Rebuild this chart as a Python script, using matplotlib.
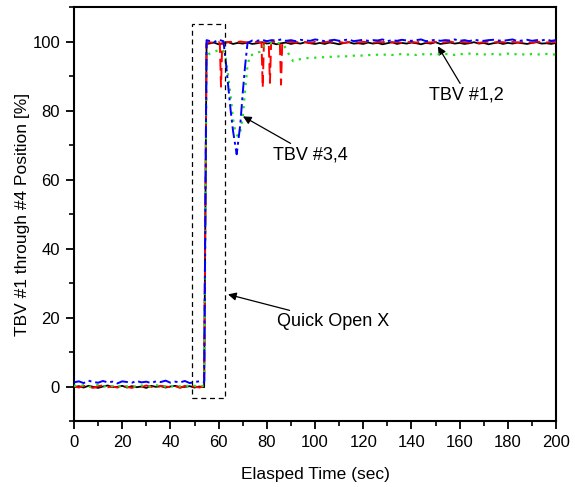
import numpy as np
import matplotlib
matplotlib.use("Agg")
import matplotlib.pyplot as plt
from matplotlib.patches import Rectangle

plt.rcParams['font.family'] = ['Liberation Sans', 'DejaVu Sans']

# ---------------- data ----------------
t_pre = list(range(0, 55, 2))           # 0..54 s (before opening)
t_late = list(range(76, 201, 2))        # 76..200 s

# black (TBV #1)
black_t = t_pre + [55] + list(range(56, 201, 2))
black_pre = [-0.2, 0.1, -0.3, 0.2, -0.1, -0.4, 0.0, 0.3, -0.2, -0.1, 0.2, -0.3, 0.1, -0.2,
             0.0, -0.4, 0.2, -0.1, 0.1, -0.3, 0.0, 0.2, -0.2, -0.1, 0.1, -0.3, 0.0, -0.2]
black_post = [99.3,
              99.4, 99.7, 99.2, 99.5, 99.8, 99.3, 99.6, 99.4, 99.7, 99.3, 99.5, 99.8, 99.4,
              99.6, 99.2, 99.5, 99.7, 99.3, 99.6, 99.4, 99.8, 99.5, 99.3,
              99.6, 99.3, 99.7, 99.5, 99.2, 99.6, 99.8, 99.4, 99.5, 99.3,
              99.7, 99.4, 99.6, 99.2, 99.5, 99.8, 99.3, 99.6, 99.4, 99.7,
              99.5, 99.2, 99.6, 99.4, 99.8, 99.3, 99.5, 99.7, 99.4, 99.6,
              99.3, 99.5, 99.8, 99.4, 99.6, 99.2, 99.5, 99.7, 99.3, 99.6,
              99.4, 99.7, 99.5, 99.3, 99.6, 99.8, 99.4, 99.5, 99.3, 99.6]
black_v = black_pre + black_post

# red (TBV #2)
red_t = t_pre + [55, 56, 58, 60, 60.5, 61, 61.5, 63, 65, 67, 69, 71, 73, 75, 77, 77.8, 78.3, 78.8,
                 80, 80.8, 81.3, 81.8, 83, 85.4, 85.9, 86.4] + list(range(88, 201, 2))
red_pre = [0.1, -0.3, 0.2, -0.1, -0.4, 0.1, 0.3, -0.2, 0.0, -0.3, 0.2, -0.1, -0.4, 0.1,
           -0.2, 0.3, -0.1, -0.3, 0.2, 0.0, -0.2, 0.1, -0.4, 0.2, -0.1, 0.0, -0.3, 0.1]
red_post = [99.5, 99.8, 99.6, 99.9, 99.5, 86.9, 99.6, 99.8, 99.9, 99.7, 100.0, 99.8, 99.7, 99.9,
            99.8, 99.6, 86.6, 99.7, 99.9, 99.7, 88.0, 99.8, 99.9, 99.7, 87.5, 99.6,
            99.8, 99.9, 99.7, 100.0, 99.8, 99.6, 99.9, 99.7, 99.8, 100.0,
            99.7, 99.9, 99.6, 99.8, 100.0, 99.7, 99.9, 99.8, 99.6, 99.9,
            99.8, 100.0, 99.7, 99.9, 99.6, 99.8, 99.9, 99.7, 100.0, 99.8,
            99.7, 99.9, 99.6, 99.8, 100.0, 99.7, 99.9, 99.8, 99.7, 99.9,
            99.6, 99.8, 100.0, 99.7, 99.9, 99.8, 99.6, 99.9, 99.7, 99.8,
            99.9, 99.6, 100.0, 99.8, 99.7, 99.9, 99.8]
red_v = red_pre + red_post

# green (TBV #3)
green_t = t_pre + [55, 56, 58, 60, 62, 63, 64, 65, 66, 67, 68, 69, 70, 71, 72, 73, 75, 77, 78,
                   80, 82, 84, 86, 87, 88, 89, 90, 91, 92, 94, 96, 98] + list(range(100, 201, 2))
green_pre = [0.3, 0.0, 0.4, -0.2, 0.2, 0.5, -0.1, 0.3, 0.1, -0.3, 0.4, 0.0, 0.2, -0.2,
             0.3, 0.1, -0.1, 0.4, 0.2, 0.0, 0.3, -0.2, 0.1, 0.4, 0.0, 0.2, -0.1, 0.3]
green_post = [95.6, 96.4, 97.0, 97.5, 97.3, 95.0, 90.0, 84.0, 77.5, 73.5, 72.5, 74.0, 78.0, 86.0,
              93.0, 96.0, 96.3, 97.0, 98.2, 99.3, 99.5, 99.6, 99.4, 99.0, 97.8, 96.5, 95.2,
              94.3, 94.6, 94.9, 95.1, 95.3,
              95.3, 95.5, 95.4, 95.6, 95.5, 95.7, 95.8, 95.6, 95.9, 96.0,
              95.9, 96.1, 96.0, 96.2, 96.1, 96.3, 96.1, 96.2, 96.4, 96.2,
              96.3, 96.1, 96.4, 96.2, 96.3, 96.5, 96.2, 96.4, 96.3, 96.1,
              96.4, 96.3, 96.5, 96.2, 96.4, 96.3, 96.1, 96.4, 96.2, 96.3,
              96.5, 96.2, 96.4, 96.3, 96.1, 96.4, 96.3, 96.2, 96.4, 96.3, 96.2]
green_v = green_pre + green_post

# blue (TBV #4)
blue_t = t_pre + [55, 56, 58, 60, 62, 63, 64, 65, 66, 67.5, 69, 70, 71, 72, 74] + t_late
blue_pre = [1.2, 1.5, 1.0, 1.7, 1.3, 1.1, 1.6, 1.2, 1.4, 0.9, 1.5, 1.3, 1.1, 1.6,
            1.2, 1.4, 1.0, 1.5, 1.3, 1.7, 1.1, 1.4, 1.2, 1.6, 1.0, 1.3, 1.5, 1.2]
blue_post = [100.4, 100.2, 99.8, 100.5, 100.1, 94.0, 87.0, 80.0, 74.0, 67.3, 76.0, 85.0, 93.0,
             99.6, 100.3,
             100.2, 100.5, 100.1, 100.4, 100.3, 100.6, 100.2, 100.4, 100.1, 100.5,
             100.3, 100.2, 100.6, 100.4, 100.1, 100.3, 100.5, 100.2, 100.4, 100.6,
             100.1, 100.3, 100.5, 100.2, 100.4, 100.3, 100.6, 100.1, 100.4, 100.2,
             100.5, 100.3, 100.2, 100.4, 100.6, 100.1, 100.3, 100.5, 100.2, 100.4,
             100.3, 100.6, 100.2, 100.4, 100.1, 100.5, 100.3, 100.2, 100.4, 100.5,
             100.3, 100.2, 100.4, 100.6, 100.1, 100.3, 100.5, 100.2, 100.4, 100.3,
             100.6, 100.2, 100.4]
blue_v = blue_pre + blue_post

x_ticks = [0, 20, 40, 60, 80, 100, 120, 140, 160, 180, 200]
y_ticks = [0, 20, 40, 60, 80, 100]

# dashed box marking the quick-open event (data coords)
box_x = [49.1, 62.6]
box_y = [-3.3, 105.1]

# ---------------- figure ----------------
fig = plt.figure(figsize=(5.75, 4.87), dpi=100)
ax = fig.add_axes([0.1287, 0.1355, 0.8383, 0.8501])

ax.plot(black_t, black_v, color='black', lw=1.3, ls='-', zorder=3)
ax.plot(red_t, red_v, color='#ff0000', lw=1.4, ls=(0, (6, 3)), zorder=4)
ax.plot(green_t, green_v, color='#22e022', lw=1.6, ls=(0, (1, 2.5)), zorder=5)
ax.plot(blue_t, blue_v, color='#0000ff', lw=1.4, ls=(0, (6, 2, 1.5, 2)), zorder=6)

ax.add_patch(Rectangle((box_x[0], box_y[0]), box_x[1] - box_x[0], box_y[1] - box_y[0],
                       fill=False, ec='black', lw=0.9, ls=(0, (4, 3)), zorder=7))

ax.set_xlim(0, 200)
ax.set_ylim(-10, 110)
ax.set_xticks(x_ticks)
ax.set_yticks(y_ticks)
ax.set_xticks(np.arange(10, 200, 20), minor=True)
ax.set_yticks(np.arange(-10, 111, 20), minor=True)

for s in ax.spines.values():
    s.set_linewidth(1.5)
ax.tick_params(which='major', direction='out', length=6, width=1.3, labelsize=12,
               top=False, right=False, pad=4)
ax.tick_params(which='minor', direction='out', length=3.5, width=1.2, top=False, right=False)

ax.set_xlabel('Elasped Time (sec)', fontsize=12.5, labelpad=12)
ax.set_ylabel('TBV #1 through #4 Position [%]', fontsize=12.5, labelpad=1.5)

ann_kw = dict(fontsize=13, va='center', ha='left',
              arrowprops=dict(arrowstyle='-|>', color='black', lw=0.9,
                              mutation_scale=12, shrinkA=0, shrinkB=0))
ax.annotate('TBV #1,2', xy=(151, 98.6), xytext=(147.5, 84.6), **ann_kw)
ax.annotate('TBV #3,4', xy=(70.1, 78.3), xytext=(82.6, 67.2), **ann_kw)
ax.annotate('Quick Open X', xy=(63.9, 26.7), xytext=(84.2, 18.8), **ann_kw)

fig.savefig('out.png', dpi=100)
